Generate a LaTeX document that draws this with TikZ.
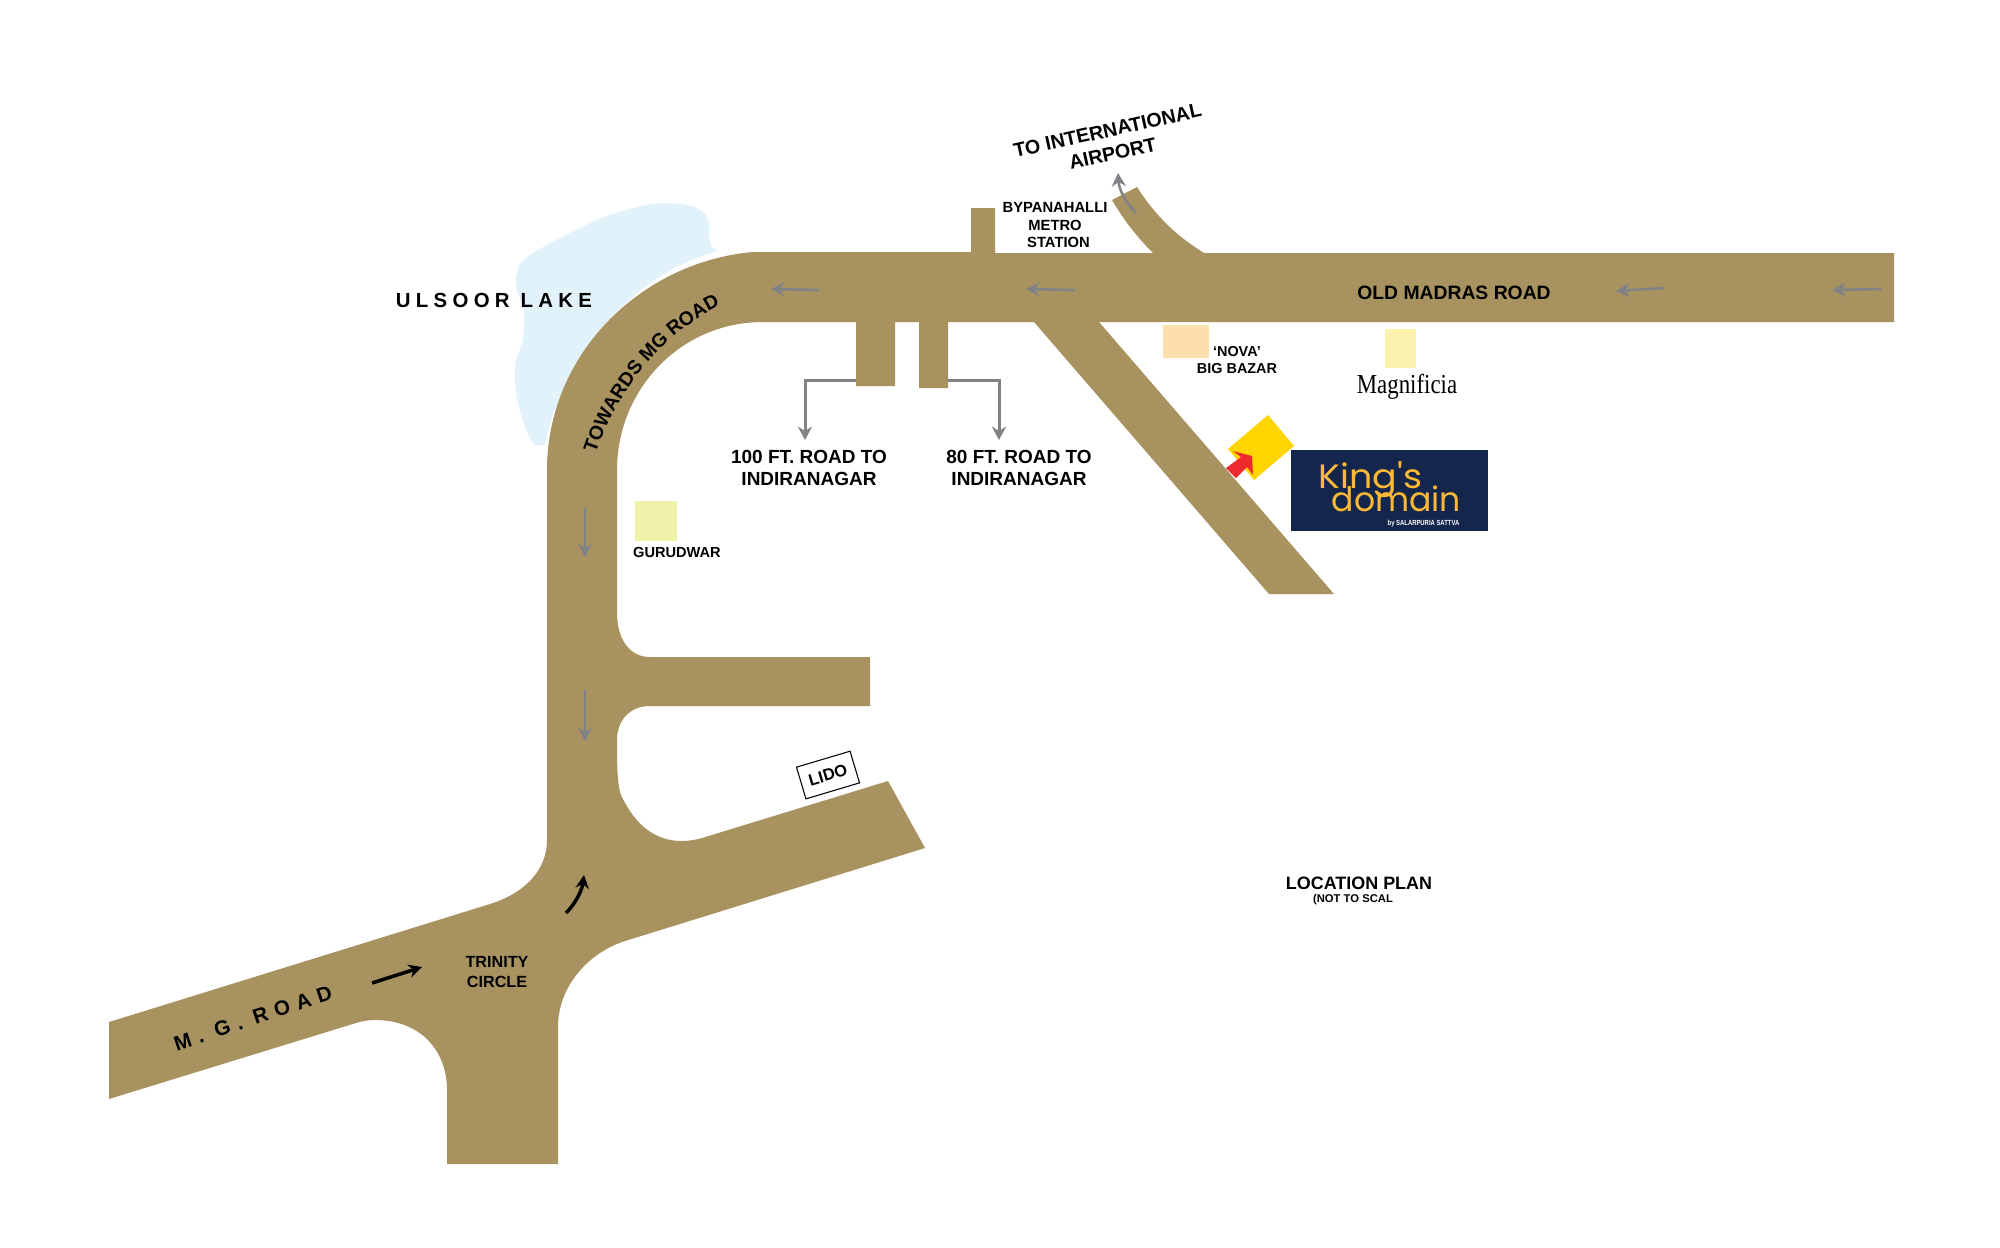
\documentclass[tikz,border=0pt]{standalone}
\usepackage{fontspec}
\usepackage{graphicx}
\usetikzlibrary{arrows.meta,decorations.text}
\setmainfont{Liberation Sans}
\newfontfamily\poppinsf{Poppins}
\newfontfamily\serifmag{Liberation Serif}
\definecolor{roadc}{HTML}{A89360}
\definecolor{lakec}{HTML}{E1F2FB}
\definecolor{novac}{HTML}{FDDFAC}
\definecolor{magc}{HTML}{FDF1AE}
\definecolor{gurc}{HTML}{EEF2A8}
\definecolor{bldgc}{HTML}{FFD500}
\definecolor{redc}{HTML}{EE2A2F}
\definecolor{navyc}{HTML}{14264B}
\definecolor{goldc}{HTML}{FDB933}
\definecolor{arrc}{HTML}{808285}
\newcommand{\fs}[1]{\fontsize{#1pt}{1.2\dimexpr#1pt\relax}\selectfont\bfseries}
\tikzset{
  lbl/.style={inner sep=0pt,align=center,text=black,font=\fs{#1}},
  lbl/.default=5.2,
  grayarrow/.style={draw=arrc,line width=0.72pt,-{Stealth[length=3.8pt,width=4pt]}},
  blackarrow/.style={draw=black,line width=1pt,-{Stealth[length=3.8pt,width=3.8pt]}}
}
\begin{document}
\begin{tikzpicture}[x=0.01cm,y=-0.01cm]
\useasboundingbox (0,0) rectangle (2000,1247);
\fill[white] (0,0) rectangle (2000,1247);
% lake
\fill[lakec] plot[smooth,tension=0.6] coordinates {(718,251) (710,243) (709,223) (700,210) (680,204) (647,205) (597,220) (530,255) (517,273) (517,290) (523,307) (524,330) (520,350) (515,367) (518,403) (532,442) (545,444)}
  .. controls (551,410) and (573,365) .. (598,333)
  .. controls (633,290) and (672,263) .. (718,251) -- cycle;
% roads
\fill[roadc]
  (1894,253) -- (1204,253)
  .. controls (1175,235) and (1155,215) .. (1137,187)
  -- (1112,200)
  .. controls (1125,222) and (1138,238) .. (1153,253)
  -- (995,253) -- (995,208) -- (971,208) -- (971,252) -- (753,252)
  .. controls (640,262) and (547,355) .. (547,470)
  -- (547,840)
  .. controls (547,870) and (525,893) .. (490,904)
  -- (109,1022) -- (109,1099) -- (356,1023)
  .. controls (362,1021) and (368,1020) .. (375,1020)
  .. controls (420,1020) and (447,1050) .. (447,1090)
  -- (447,1164) -- (558,1164) -- (558,1027)
  .. controls (558,985) and (590,952) .. (625,941)
  -- (925,848) -- (888,781) -- (702,838)
  .. controls (695,840) and (688,841) .. (682,841)
  .. controls (655,841) and (635,825) .. (621,795)
  .. controls (617,785) and (617,760) .. (617,740)
  .. controls (617,720) and (630,706) .. (650,706)
  -- (870,706) -- (870,657) -- (650,657)
  .. controls (630,657) and (617,640) .. (617,612)
  -- (617,470)
  .. controls (617,390) and (680,322) .. (763,322)
  -- (856,322) -- (856,386) -- (895,386) -- (895,322)
  -- (919,322) -- (919,388) -- (948,388) -- (948,322)
  -- (1034,322) -- (1269,594) -- (1334,594) -- (1099,322)
  -- (1894,322) -- cycle;
% swatches
\fill[novac] (1163,325) rectangle (1209,358);
\fill[magc] (1385,329) rectangle (1416,368);
\fill[gurc] (635,501) rectangle (677,541);
% building and arrow
\fill[bldgc] (1268,415) -- (1294,446) -- (1254,480) -- (1228,449) -- cycle;
\fill[redc] (1226,468) -- (1241,457) -- (1233,451) -- (1252,456) -- (1253,475) -- (1247,467) -- (1236,478) -- cycle;
% logo
\fill[navyc] (1291,450) rectangle (1488,531);
\node[inner sep=0pt,anchor=base west,text=goldc] (kings) at (1318,488) {\scalebox{1.08}[1]{\poppinsf\fontsize{9.6pt}{10pt}\selectfont King's}};
\node[inner sep=0pt,anchor=base west,text=goldc] (domain) at (1331,511) {\scalebox{0.98}[1]{\poppinsf\fontsize{9.6pt}{10pt}\selectfont domain}};
\node[inner sep=0pt,anchor=base east,text=white] (sattva) at (1460,525) {\scalebox{0.8}[1]{\fontsize{2.1pt}{2.5pt}\selectfont\bfseries by SALARPURIA SATTVA}};
% gray arrows
\draw[grayarrow] (1881,289) -- (1832,290);
\draw[grayarrow] (1664,288) -- (1616,291);
\draw[grayarrow] (1075,290) -- (1026,289);
\draw[grayarrow] (819,290) -- (771,289);
\draw[grayarrow] (585,508) -- (585,557);
\draw[grayarrow] (585,690) -- (585,741);
\draw[grayarrow] (1136,213) .. controls (1126,203) and (1119,190) .. (1118,173);
% side road connectors
\coordinate (stubA) at (856,380);
\coordinate (elbowA) at (805,380);
\coordinate (tipA) at (805,440);
\coordinate (stubB) at (948,380);
\coordinate (elbowB) at (999,380);
\coordinate (tipB) at (999,440);
\draw[grayarrow,line width=0.85pt] (stubA) -- (elbowA) -- (tipA);
\draw[grayarrow,line width=0.85pt] (stubB) -- (elbowB) -- (tipB);
% black arrows
\draw[blackarrow] (372,983) -- (422,967);
\draw[blackarrow] (566,913) .. controls (576,903) and (582,890) .. (584,875);
% labels
\node[lbl=5.5] (omr) at (1454,293) {OLD MADRAS ROAD};
\node[lbl=5.6,rotate=12.5] (airport) at (1110,142) {TO INTERNATIONAL\\AIRPORT};
\node[lbl=4.2] (metro) at (1055,225) {BYPANAHALLI\\METRO\\\hspace*{2pt}STATION};
\node[lbl=4.1] (nova) at (1237,360) {‘NOVA’\\BIG BAZAR};
\node[inner sep=0pt,text=black] (magni) at (1407,387) {\scalebox{1}[1.2]{\serifmag\fontsize{6.5pt}{7pt}\selectfont Magnificia}};
\node[lbl=5.8] (lake) at (494,300) {\addfontfeature{LetterSpace=26}ULSOOR LAKE};
\path[decorate,decoration={text along path,text align=center,text={|\fs{5.5}|TOWARDS MG ROAD}}]
  (597,450) .. controls (617,393) and (657,339) .. (717,307);
\node[lbl=5.4] (hundred) at (809,468) {100 FT. ROAD TO\\INDIRANAGAR};
\node[lbl=5.4] (eighty) at (1019,468) {80 FT. ROAD TO\\INDIRANAGAR};
\node[lbl=4.15] (guru) at (677,552) {GURUDWAR};
\node[lbl=4.6] (trinity) at (497,972) {TRINITY\\CIRCLE};
\node[lbl=5.9,rotate=18.5] (mg) at (253,1018) {\addfontfeature{LetterSpace=34}M.\hspace{3.4pt}G.\hspace{3.4pt}ROAD};
\node[lbl=4.7,rotate=16.6,draw=black,line width=0.3pt,minimum width=15.9pt,minimum height=9.4pt] (lido) at (828,775) {LIDO};
\node[lbl=5.1] (plan) at (1359,883) {LOCATION PLAN};
\node[lbl=3.2] (scale) at (1353,900) {(NOT TO SCAL};
\end{tikzpicture}
\end{document}
